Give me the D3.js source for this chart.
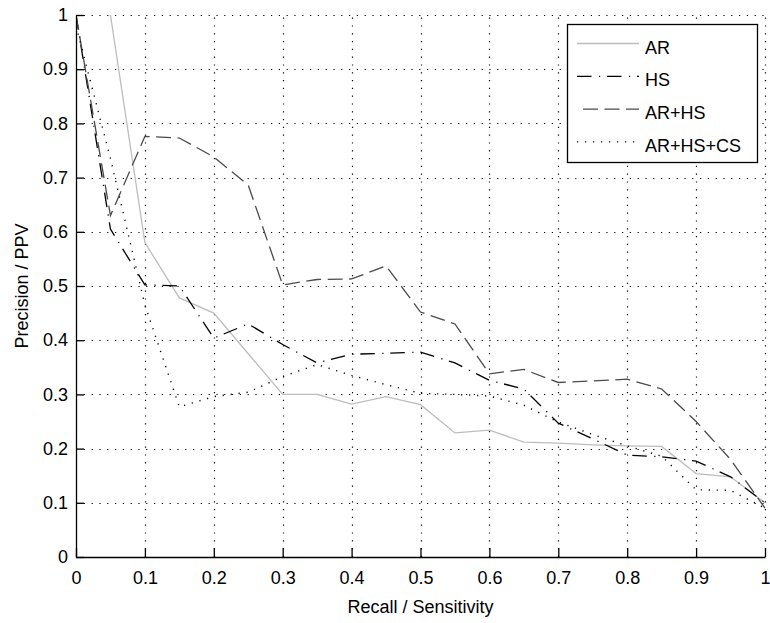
<!DOCTYPE html>
<html>
<head>
<meta charset="utf-8">
<script src="https://cdn.jsdelivr.net/npm/d3@7"></script>
<style>
  html, body { margin: 0; padding: 0; background: #fff; }
  svg { display: block; }
</style>
</head>
<body>
<svg id="chart" width="770" height="623"></svg>
<script>
// recall sampled every 0.05
const recall = [0, 0.05, 0.1, 0.15, 0.2, 0.25, 0.3, 0.35, 0.4, 0.45, 0.5,
  0.55, 0.6, 0.65, 0.7, 0.75, 0.8, 0.85, 0.9, 0.95, 1]

const precisionAR = [null, 1.0, 0.58, 0.478, 0.45, 0.375, 0.3, 0.3, 0.282, 0.296, 0.281,
  0.229, 0.234, 0.212, 0.21, 0.207, 0.205, 0.204, 0.154, 0.148, 0.1]
const precisionHS = [1.0, 0.605, 0.502, 0.5, 0.404, 0.43, 0.392, 0.358, 0.374, 0.376, 0.378,
  0.358, 0.326, 0.31, 0.247, 0.218, 0.188, 0.185, 0.177, 0.148, 0.1]
const precisionARHS = [1.0, 0.63, 0.776, 0.773, 0.738, 0.686, 0.502, 0.512, 0.513, 0.537, 0.452,
  0.43, 0.338, 0.346, 0.322, 0.325, 0.328, 0.31, 0.25, 0.18, 0.09]
const precisionARHSCS = [0.98, 0.735, 0.465, 0.277, 0.296, 0.304, 0.333, 0.355, 0.335, 0.318, 0.302,
  0.3, 0.297, 0.28, 0.249, 0.226, 0.205, 0.186, 0.124, 0.123, 0.09]

const tickValues = [0, 0.1, 0.2, 0.3, 0.4, 0.5, 0.6, 0.7, 0.8, 0.9, 1]
const tickLabels = ['0', '0.1', '0.2', '0.3', '0.4', '0.5', '0.6', '0.7', '0.8', '0.9', '1']

const seriesNames = ['AR', 'HS', 'AR+HS', 'AR+HS+CS']
const seriesValues = [precisionAR, precisionHS, precisionARHS, precisionARHSCS]

// line styles (matlab-ish)
const lineStyles = [
  { stroke: '#bdbdbd', dash: null, offset: 0 },
  { stroke: '#000', dash: '14.5,7.5,1.2,6.8', offset: 0 },
  { stroke: '#4a4a4a', dash: '15,6.5', offset: 15.5 },
  { stroke: '#000', dash: '1.2,6.8', offset: 0 },
]

const font = '"Liberation Sans", Arial, Helvetica, sans-serif'
const fontSize = 18

const margin = { top: 15, right: 5, bottom: 66, left: 76 }
const width = 770
const height = 623
const chartWidth = width - margin.left - margin.right
const chartHeight = height - margin.top - margin.bottom

const svgRoot = d3.select('#chart')

const x = d3.scaleLinear().domain([0, 1]).range([0, chartWidth])
const y = d3.scaleLinear().domain([0, 1]).range([chartHeight, 0])

const svg = svgRoot
  .append('g')
  .attr('transform', `translate(${margin.left},${margin.top})`)

svg
  .append('clipPath')
  .attr('id', 'plotClip')
  .append('rect')
  .attr('x', 0)
  .attr('y', -1)
  .attr('width', chartWidth + 1)
  .attr('height', chartHeight + 1)

// grid
const grid = svg.append('g').attr('id', 'grid')
grid
  .selectAll('line.vgrid')
  .data(tickValues.filter((d) => d > 0))
  .join('line')
  .attr('class', 'vgrid')
  .attr('x1', (d) => Math.round(x(d)) + 0.5)
  .attr('x2', (d) => Math.round(x(d)) + 0.5)
  .attr('y1', chartHeight)
  .attr('y2', 0)
grid
  .selectAll('line.hgrid')
  .data(tickValues.filter((d) => d > 0))
  .join('line')
  .attr('class', 'hgrid')
  .attr('x1', 0)
  .attr('x2', chartWidth)
  .attr('y1', (d) => Math.round(y(d)) + 0.5)
  .attr('y2', (d) => Math.round(y(d)) + 0.5)
grid
  .selectAll('line')
  .attr('stroke', '#000')
  .attr('stroke-width', 1.2)
  .attr('stroke-dasharray', '1.2,6.6')

// series
const line = d3
  .line()
  .defined((d) => d[1] !== null)
  .x((d) => x(d[0]))
  .y((d) => y(d[1]))

const lines = svg.append('g').attr('id', 'series').attr('clip-path', 'url(#plotClip)')
seriesValues.forEach((values, i) => {
  const st = lineStyles[i]
  lines
    .append('path')
    .datum(recall.map((r, j) => [r, values[j]]))
    .attr('fill', 'none')
    .attr('stroke', st.stroke)
    .attr('stroke-width', i === 3 ? 1.4 : 1.3)
    .attr('stroke-dasharray', st.dash)
    .attr('d', line)
})

// axes
const xAxis = d3
  .axisBottom(x)
  .tickValues(tickValues)
  .tickFormat((d, i) => tickLabels[i])
  .tickSizeInner(-9)
  .tickSizeOuter(0)
  .tickPadding(14.5)

const yAxis = d3
  .axisLeft(y)
  .tickValues(tickValues)
  .tickFormat((d, i) => tickLabels[i])
  .tickSizeInner(-8)
  .tickSizeOuter(0)
  .tickPadding(8)

const gx = svg
  .append('g')
  .attr('transform', `translate(0,${chartHeight})`)
  .call(xAxis)
const gy = svg.append('g').call(yAxis)

;[gx, gy].forEach((g) => {
  g.attr('font-family', font).attr('font-size', fontSize)
  g.selectAll('path, line').attr('stroke', '#000').attr('stroke-width', 1.3)
  g.selectAll('text').attr('fill', '#000')
})

// axis titles
svgRoot
  .append('text')
  .attr('x', margin.left + chartWidth / 2)
  .attr('y', 613)
  .attr('text-anchor', 'middle')
  .attr('font-family', font)
  .attr('font-size', fontSize)
  .text('Recall / Sensitivity')

svgRoot
  .append('text')
  .attr('transform', `translate(28,${margin.top + chartHeight / 2}) rotate(-90)`)
  .attr('text-anchor', 'middle')
  .attr('font-family', font)
  .attr('font-size', fontSize)
  .text('Precision / PPV')

// legend
const legendBox = { x: 567, y: 24, w: 190, h: 138 }
const legend = svgRoot.append('g').attr('id', 'legend')
legend
  .append('rect')
  .attr('x', legendBox.x + 0.5)
  .attr('y', legendBox.y + 0.5)
  .attr('width', legendBox.w)
  .attr('height', legendBox.h)
  .attr('fill', '#fff')
  .attr('stroke', '#000')
  .attr('stroke-width', 1.3)

const rows = legend
  .selectAll('g.row')
  .data(seriesNames)
  .join('g')
  .attr('class', 'row')
  .attr('transform', (d, i) => `translate(0,${43.5 + i * 32.8})`)

rows
  .append('line')
  .attr('x1', 577)
  .attr('x2', 639)
  .attr('y1', 0)
  .attr('y2', 0)
  .attr('stroke', (d, i) => lineStyles[i].stroke)
  .attr('stroke-width', (d, i) => (i === 3 ? 1.4 : 1.3))
  .attr('stroke-dasharray', (d, i) => lineStyles[i].dash)
  .attr('stroke-dashoffset', (d, i) => lineStyles[i].offset)

rows
  .append('text')
  .attr('x', 645)
  .attr('y', 10)
  .attr('font-family', font)
  .attr('font-size', fontSize)
  .text((d) => d)
</script>
</body>
</html>
